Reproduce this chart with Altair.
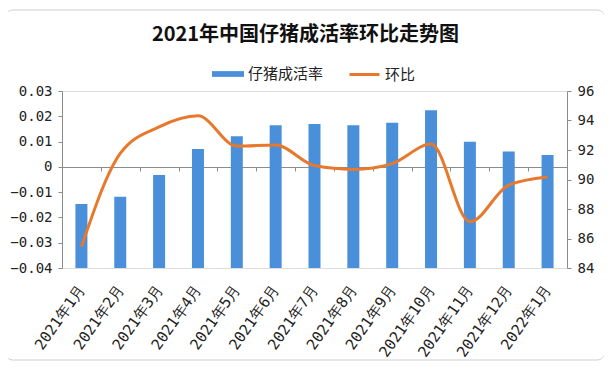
import altair as alt
import pandas as pd

months = ["2021年1月", "2021年2月", "2021年3月", "2021年4月", "2021年5月", "2021年6月",
          "2021年7月", "2021年8月", "2021年9月", "2021年10月", "2021年11月", "2021年12月",
          "2022年1月"]
survival = [88.34, 88.83, 90.31, 92.07, 92.93, 93.67, 93.76, 93.67, 93.85, 94.69, 92.56, 91.89, 91.66]
mom = [-0.0316, 0.0053, 0.0158, 0.0202, 0.0082, 0.0086, 0.0005, -0.0010, 0.0013, 0.0090,
       -0.0217, -0.0072, -0.0040]
left_ticks = [-0.04, -0.03, -0.02, -0.01, 0, 0.01, 0.02, 0.03]
right_ticks = [84, 86, 88, 90, 92, 94, 96]

df = pd.DataFrame({"month": months, "survival": survival, "mom": mom,
                   "s_name": "仔猪成活率", "m_name": "环比"})

MONO = "DejaVu Sans Mono"
CJK = "Noto Sans CJK SC"
AXC = "#8c8c8c"
BLUE = "#4A8FDA"
ORANGE = "#E8782C"

xscale = alt.Scale(domain=months, paddingInner=0, paddingOuter=0)

base = alt.Chart(df)

bars = base.mark_bar(size=12, color=BLUE).encode(
    x=alt.X("month:N", sort=months, scale=xscale,
            axis=alt.Axis(orient="bottom", title=None, domain=False, ticks=False,
                          labelAngle=-55, labelAlign="right", labelBaseline="middle",
                          labelPadding=18, labelFont=MONO, labelFontSize=15,
                          labelColor="#222")),
    y=alt.Y("survival:Q", scale=alt.Scale(domain=[84, 96], zero=False, nice=False),
            axis=alt.Axis(orient="right", title=None, values=right_ticks, grid=False,
                          domainColor=AXC, tickColor=AXC, tickSize=4, labelPadding=6,
                          labelFont=MONO, labelFontSize=14, labelColor="#222")),
    y2=alt.datum(84),
    color=alt.Color("s_name:N", scale=alt.Scale(range=[BLUE]),
                    legend=alt.Legend(orient="none", legendX=150, legendY=-33, title=None,
                                      symbolType="M-1,-0.18H1V0.18H-1Z", symbolSize=1024,
                                      labelFont=CJK, labelFontSize=15, labelColor="#222",
                                      symbolStrokeWidth=0, symbolOpacity=1)),
)

line = base.mark_line(color=ORANGE, strokeWidth=3, interpolate="monotone").encode(
    x=alt.X("month:N", sort=months, scale=xscale,
            axis=alt.Axis(orient="bottom", title=None, labels=False, ticks=True,
                          tickBand="extent", tickSize=4, tickColor=AXC,
                          domainColor=AXC, offset=-101)),
    y=alt.Y("mom:Q", scale=alt.Scale(domain=[-0.04, 0.03], nice=False, zero=False),
            axis=alt.Axis(orient="left", title=None, values=left_ticks, grid=False,
                          domainColor=AXC, tickColor=AXC, tickSize=4, labelPadding=6,
                          labelExpr="datum.value == 0 ? '0' : format(datum.value, '.2f')",
                          labelFont=MONO, labelFontSize=14, labelColor="#222")),
    color=alt.Color("m_name:N", scale=alt.Scale(range=[ORANGE]),
                    legend=alt.Legend(orient="none", legendX=286, legendY=-33, title=None,
                                      symbolType="stroke", symbolSize=900,
                                      symbolStrokeWidth=3,
                                      labelFont=CJK, labelFontSize=15, labelColor="#222")),
)

frame = pd.DataFrame({"k": [0]})
border = alt.Chart(frame).mark_rect(
    fill=None, stroke="#cfcfcf", strokeWidth=1, cornerRadius=8
).encode(x=alt.value(-57), x2=alt.value(543), y=alt.value(-81), y2=alt.value(269))
top_rule = alt.Chart(frame).mark_rule(color="#555", strokeWidth=1.5).encode(
    x=alt.value(-50), x2=alt.value(538), y=alt.value(-87))
bottom_rule = alt.Chart(frame).mark_rule(color="#555", strokeWidth=1.5).encode(
    x=alt.value(-50), x2=alt.value(538), y=alt.value(271))

chart = alt.layer(border, top_rule, bottom_rule, bars, line).resolve_scale(
    y="independent", color="independent"
).resolve_axis(x="independent").properties(
    width=505, height=177,
    title=alt.Title("2021年中国仔猪成活率环比走势图", font=CJK, fontSize=20,
                    fontWeight="bold", color="#111", anchor="middle", dx=-9, offset=-42),
    autosize=alt.AutoSizeParams(type="none"),
    padding={"left": 54, "top": 83, "right": 37, "bottom": 93},
).configure_view(stroke=None).configure(background="white")

chart.save("out.html", embed_options={"renderer": "svg", "actions": False})
